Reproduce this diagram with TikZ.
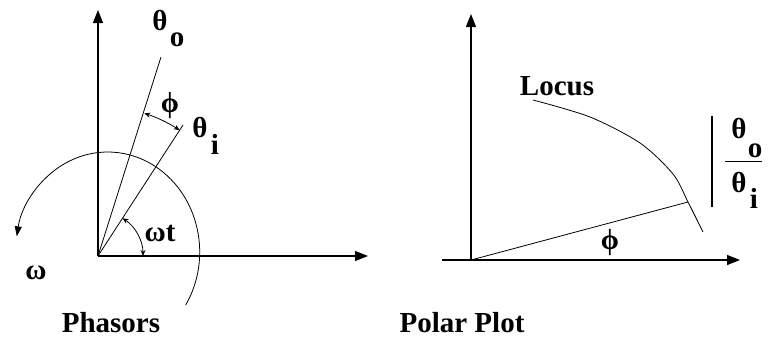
\documentclass[tikz,border=0pt]{standalone}
\usepackage{fontspec}
\setmainfont{Liberation Serif}
\usetikzlibrary{arrows.meta}
\begin{document}
\begin{tikzpicture}[x=1pt,y=-1pt,
  axis/.style={line width=1.4pt,-{Triangle[length=13pt,width=10pt]}},
  thinline/.style={line width=0.8pt},
  angarrow/.style={line width=0.8pt,{Stealth[length=6pt,width=5pt]}-{Stealth[length=6pt,width=5pt]}},
  lbl/.style={font=\fontsize{29}{32}\selectfont\bfseries, inner sep=0pt}]
\useasboundingbox (0,0) rectangle (774,338);
% ---------- Phasors ----------
\coordinate (O1) at (98,256);
\coordinate (Y1) at (98,10);
\coordinate (X1) at (368,256);
\coordinate (To) at (161,57);
\coordinate (Ti) at (183,125);
\draw[axis] (O1) -- (Y1);
\draw[axis] (O1) -- (X1);
\draw[thinline] (O1) -- (To);
\draw[thinline] (O1) -- (Ti);
\draw[angarrow] (O1) ++(-72:150) arc[start angle=-72, end angle=-57, radius=150];
\draw[angarrow] (O1) ++(-57:45) arc[start angle=-57, end angle=0, radius=45];
\draw[thinline,-{Triangle[length=10pt,width=7pt]}] (106,252) ++(32:94 and 100) arc[start angle=32, end angle=-171, x radius=92, y radius=100];
\node[lbl] (tho) at (160,20) {θ};
\node[lbl] (subo) at (177,40) {o};
\node[lbl] (phi1) at (170,106) {ϕ};
\node[lbl] (thi) at (200,127) {θ};
\node[lbl] (subi) at (215,144) {i};
\node[lbl] (wt) at (160,233) {ωt};
\node[lbl] (w) at (36,273) {ω};
\node[lbl,anchor=base] (phasors) at (111,332) {Phasors};
% ---------- Polar plot ----------
\coordinate (O2) at (471,260);
\coordinate (Y2) at (471,14);
\coordinate (XL) at (442,260);
\coordinate (X2) at (740,260);
\coordinate (P) at (688,202);
\draw[axis] (O2) -- (Y2);
\draw[axis] (XL) -- (X2);
\draw[thinline] (O2) -- (P);
\draw[thinline] plot[smooth] coordinates {(533,100) (590,117) (640,143) (673,174) (688,202) (703,232)};
\node[lbl,anchor=base] (locus) at (557,95) {Locus};
\node[lbl] (phi2) at (610,243) {ϕ};
\draw[line width=1.3pt] (712,116) -- (712,207);
\draw[line width=1pt] (725,161) -- (762,161);
\node[lbl] (th1) at (739,128) {θ};
\node[lbl] (s1) at (755,151) {o};
\node[lbl] (th2) at (739,182) {θ};
\node[lbl] (s2) at (754,198) {i};
\node[lbl,anchor=base] (polar) at (462,332) {Polar Plot};
\end{tikzpicture}
\end{document}
